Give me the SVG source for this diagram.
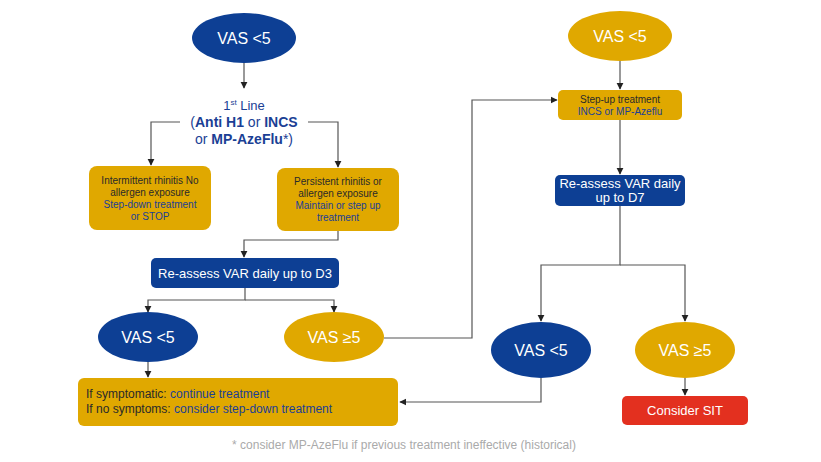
<svg xmlns="http://www.w3.org/2000/svg" width="821" height="462" viewBox="0 0 821 462">
<style>
text{font-family:"Liberation Sans",Arial,sans-serif}
.b{fill:#0d3f94}.g{fill:#e0a800}.r{fill:#e3301f}
.w{fill:#fff;font-size:16px;text-anchor:middle}
.wb{fill:#fff;font-size:13px;text-anchor:middle}
.t{fill:#2a2a2a;font-size:10px;text-anchor:middle}
.tb{fill:#1b3f95}
.c{fill:none;stroke:#555;stroke-width:1.2;marker-end:url(#a)}
</style>
<defs><marker id="a" viewBox="0 0 10 10" refX="9" refY="5" markerWidth="6" markerHeight="6" orient="auto"><path d="M0,0 L10,5 L0,10z" fill="#222"/></marker></defs>
<rect width="821" height="462" fill="#fff"/>
<g id="connectors">
<path class="c" d="M244,63 V88"/>
<path class="c" d="M180,122 H151 V165"/>
<path class="c" d="M308,122 H338 V167"/>
<path class="c" d="M338,231 V240 H244 V257"/>
<path class="c" d="M245,288 V300 H148 V312"/>
<path class="c" d="M245,300 H334 V312"/>
<path class="c" d="M148,362 V377"/>
<path class="c" d="M384,338 H472 V100 H557"/>
<path class="c" d="M620,61 V89"/>
<path class="c" d="M620,120 V174"/>
<path class="c" d="M620,206 V265 H541 V321"/>
<path class="c" d="M620,265 H685 V321"/>
<path class="c" d="M541,378 V402 H400"/>
<path class="c" d="M685,378 V395"/>
</g>
<g id="n1"><ellipse class="b" cx="244" cy="38" rx="52" ry="25"/><text class="w" x="244" y="44">VAS &lt;5</text></g>
<g id="n2" font-size="14" text-anchor="middle">
<text x="244" y="110" class="tb" font-size="13" text-anchor="middle">1<tspan font-size="8" dy="-5">st</tspan><tspan dy="5"> Line</tspan></text>
<text x="244" y="127" class="tb" font-size="14" text-anchor="middle">(<tspan font-weight="bold">Anti H1</tspan> or <tspan font-weight="bold">INCS</tspan></text>
<text x="244" y="144" class="tb" font-size="14" text-anchor="middle">or <tspan font-weight="bold">MP-AzeFlu</tspan>*)</text>
</g>
<g id="n3"><rect class="g" x="89" y="166" width="122" height="64" rx="8"/>
<text class="t" x="150" y="184">Intermittent rhinitis No</text><text class="t" x="150" y="196">allergen exposure</text>
<text class="t tb" x="150" y="208">Step-down treatment</text><text class="t tb" x="150" y="220">or STOP</text></g>
<g id="n4"><rect class="g" x="277" y="168" width="122" height="63" rx="8"/>
<text class="t" x="338" y="185">Persistent rhinitis or</text><text class="t" x="338" y="197">allergen exposure</text>
<text class="t tb" x="338" y="209">Maintain or step up</text><text class="t tb" x="338" y="221">treatment</text></g>
<g id="n5"><rect class="b" x="151" y="258" width="188" height="30" rx="5"/><text class="wb" x="245" y="278">Re-assess VAR daily up to D3</text></g>
<g id="n6"><ellipse class="b" cx="148" cy="337" rx="50" ry="25"/><text class="w" x="148" y="343">VAS &lt;5</text></g>
<g id="n7"><ellipse class="g" cx="334" cy="337" rx="50" ry="25"/><text class="w" x="334" y="343">VAS ≥5</text></g>
<g id="n8"><rect class="g" x="78" y="378" width="320" height="48" rx="6"/>
<text x="86" y="398" font-size="12" fill="#2a2a2a">If symptomatic: <tspan class="tb">continue treatment</tspan></text>
<text x="86" y="413" font-size="12" fill="#2a2a2a">If no symptoms: <tspan class="tb">consider step-down treatment</tspan></text></g>
<g id="n9"><ellipse class="g" cx="620" cy="36" rx="52" ry="25"/><text class="w" x="620" y="42">VAS &lt;5</text></g>
<g id="n10"><rect class="g" x="558" y="90" width="124" height="30" rx="5"/>
<text class="t" x="620" y="103">Step-up treatment</text><text class="t tb" x="620" y="115">INCS or MP-Azeflu</text></g>
<g id="n11"><rect class="b" x="555" y="175" width="130" height="31" rx="5"/>
<text class="wb" x="620" y="188">Re-assess VAR daily</text><text class="wb" x="620" y="202">up to D7</text></g>
<g id="n12"><ellipse class="b" cx="541" cy="350" rx="50" ry="28"/><text class="w" x="541" y="356">VAS &lt;5</text></g>
<g id="n13"><ellipse class="g" cx="685" cy="350" rx="50" ry="28"/><text class="w" x="685" y="356">VAS ≥5</text></g>
<g id="n14"><rect class="r" x="622" y="396" width="126" height="29" rx="5"/><text class="wb" x="685" y="415">Consider SIT</text></g>
<text x="404" y="449" font-size="12" fill="#aaa" text-anchor="middle">* consider MP-AzeFlu if previous treatment ineffective (historical)</text>
</svg>
